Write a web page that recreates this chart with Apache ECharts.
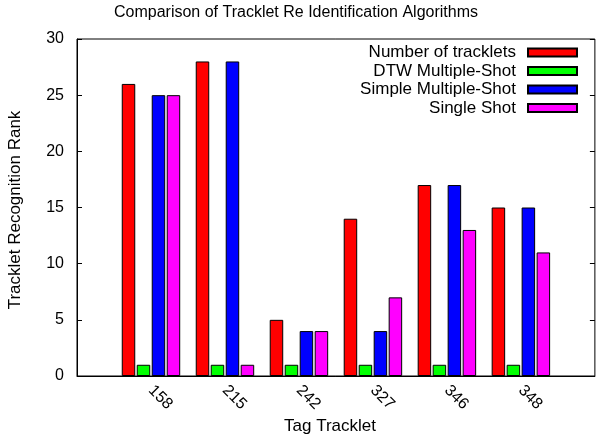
<!DOCTYPE html>
<html>
<head>
<meta charset="utf-8">
<script src="https://cdn.jsdelivr.net/npm/echarts@6/dist/echarts.min.js"></script>
<style>html,body{margin:0;padding:0;background:#fff;}#c{width:597px;height:438px;}</style>
</head>
<body>
<div id="c"></div>
<script>
var categories = ['', '158', '215', '242', '327', '346', '348'];
var seriesNames = ['Number of tracklets', 'DTW Multiple-Shot', 'Simple Multiple-Shot', 'Single Shot'];
var numberOfTracklets = [null, 26, 28, 5, 14, 17, 15];
var dtwMultipleShot = [null, 1, 1, 1, 1, 1, 1];
var simpleMultipleShot = [null, 25, 28, 4, 4, 17, 15];
var singleShot = [null, 25, 1, 4, 7, 13, 11];
var yTicks = [0, 5, 10, 15, 20, 25, 30];
var colors = ['#ff0000', '#00ff00', '#0000ff', '#ff00ff'];

var FONT = 'Liberation Sans, Arial, Helvetica, sans-serif';
var chart = echarts.init(document.getElementById('c'), null, {renderer: 'canvas'});
var allData = [numberOfTracklets, dtwMultipleShot, simpleMultipleShot, singleShot];
var series = allData.map(function (d, i) {
  return {
    name: seriesNames[i],
    type: 'bar',
    data: d,
    barWidth: 13.5,
    barGap: '11%',
    itemStyle: {color: colors[i], borderColor: '#000', borderWidth: 1},
    emphasis: {disabled: true},
    animation: false
  };
});
chart.setOption({
  animation: false,
  title: {
    text: 'Comparison of Tracklet Re Identification Algorithms',
    left: 291, top: 0, textAlign: 'center',
    textStyle: {fontFamily: FONT, fontSize: 16, fontWeight: 'normal', color: '#000'}
  },
  legend: {
    orient: 'vertical', right: 14, top: 39, align: 'right',
    itemWidth: 49, itemHeight: 8, itemGap: 1.5,
    icon: 'rect',
    textStyle: {fontFamily: FONT, fontSize: 17, color: '#000', padding: [0, 7, 0, 0]},
    data: seriesNames
  },
  grid: {left: 77, right: -3, top: 39, bottom: 62, show: true, borderColor: '#000', borderWidth: 1, backgroundColor: 'transparent'},
  xAxis: {
    type: 'category',
    data: categories.concat(['']),
    boundaryGap: false,
    axisLine: {show: true, lineStyle: {color: '#000'}},
    axisTick: {show: false},
    axisLabel: {
      rotate: -45, margin: 12, fontFamily: FONT, fontSize: 16, color: '#000',
      interval: 0
    },
    splitLine: {show: false}
  },
  yAxis: [{
    type: 'value', min: 0, max: 30, interval: 5,
    axisLine: {show: true, lineStyle: {color: '#000'}},
    axisTick: {show: true, inside: true, length: 5, lineStyle: {color: '#000'}},
    axisLabel: {fontFamily: FONT, fontSize: 16, color: '#000', margin: 13,
      formatter: function (v) { return yTicks.indexOf(v) >= 0 ? String(v) : ''; }},
    splitLine: {show: false}
  }, {
    type: 'value', min: 0, max: 30, interval: 5, position: 'right',
    axisLine: {show: false},
    axisTick: {show: true, inside: true, length: 5, lineStyle: {color: '#000'}},
    axisLabel: {show: false},
    splitLine: {show: false}
  }],
  graphic: [{
    type: 'text', x: 15, y: 210,
    rotation: Math.PI / 2,
    style: {text: 'Tracklet Recognition Rank', fontFamily: FONT, fontSize: 17, fill: '#000',
      align: 'center', verticalAlign: 'middle'}
  }, {
    type: 'text', x: 330, y: 426,
    style: {text: 'Tag Tracklet', fontFamily: FONT, fontSize: 17, fill: '#000',
      align: 'center', verticalAlign: 'middle'}
  }],
  series: series
});
</script>
</body>
</html>
